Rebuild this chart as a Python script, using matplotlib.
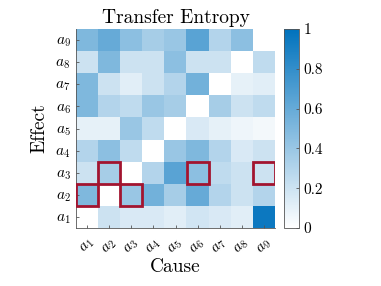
import numpy as np
import matplotlib
matplotlib.use("Agg")
import matplotlib.pyplot as plt
from matplotlib.colors import LinearSegmentedColormap
from matplotlib.patches import Rectangle

plt.rcParams['font.family'] = 'cmr10'
plt.rcParams['mathtext.fontset'] = 'cm'
plt.rcParams['axes.formatter.use_mathtext'] = True

labels = [r'$a_{%d}$' % i for i in range(1, 10)]
# rows: effect a1..a9 ; columns: cause a1..a9
te = np.array([
    [0.00, 0.20, 0.15, 0.15, 0.12, 0.18, 0.15, 0.12, 0.95],  # a1
    [0.50, 0.00, 0.40, 0.55, 0.35, 0.60, 0.30, 0.20, 0.30],  # a2
    [0.20, 0.35, 0.00, 0.30, 0.65, 0.45, 0.25, 0.20, 0.20],  # a3
    [0.30, 0.45, 0.25, 0.00, 0.40, 0.50, 0.30, 0.15, 0.20],  # a4
    [0.10, 0.10, 0.40, 0.25, 0.00, 0.15, 0.10, 0.07, 0.05],  # a5
    [0.50, 0.30, 0.25, 0.40, 0.35, 0.00, 0.35, 0.20, 0.25],  # a6
    [0.50, 0.20, 0.12, 0.20, 0.30, 0.55, 0.00, 0.10, 0.12],  # a7
    [0.20, 0.50, 0.20, 0.20, 0.45, 0.20, 0.20, 0.00, 0.25],  # a8
    [0.50, 0.60, 0.45, 0.35, 0.40, 0.65, 0.30, 0.45, 0.00],  # a9
])
# highlighted (effect, cause) pairs, 1-based
highlights = [(3, 2), (3, 6), (3, 9), (2, 1), (2, 3)]

cmap = LinearSegmentedColormap.from_list('wb', ['#ffffff', '#0072BD'])

fig = plt.figure(figsize=(3.81, 2.86), dpi=100)
ax = fig.add_axes([76/381, 1-228/286, 199/381, 199/286])
cax = fig.add_axes([284/381, 1-228/286, 15/381, 199/286])

im = ax.imshow(te, cmap=cmap, vmin=0, vmax=1, origin='lower',
               extent=[0.5, 9.5, 0.5, 9.5], aspect='auto', interpolation='nearest')
for (r, c) in highlights:
    ax.add_patch(Rectangle((c - 0.5, r - 0.5), 1, 1, fill=False,
                           edgecolor='#A2142F', linewidth=2.0, zorder=5))

ax.set_xlim(0.5, 9.5)
ax.set_ylim(0.5, 9.5)
ax.set_xticks(range(1, 10))
ax.set_yticks(range(1, 10))
ax.set_xticklabels(labels, rotation=45, fontsize=11)
ax.set_yticklabels(labels, fontsize=11)
ax.tick_params(direction='in', length=2, width=0.6, color='#555555', pad=4)
ax.tick_params(axis='x', pad=6)
for s in ['top', 'right']:
    ax.spines[s].set_visible(False)
for s in ['left', 'bottom']:
    ax.spines[s].set_color('#555555')
    ax.spines[s].set_linewidth(0.6)
ax.set_title('Transfer Entropy', fontsize=14, pad=4)
ax.set_xlabel('Cause', fontsize=14, labelpad=1)
ax.set_ylabel('Effect', fontsize=14, labelpad=5)

cb = fig.colorbar(im, cax=cax)
cb.set_ticks([0, 0.2, 0.4, 0.6, 0.8, 1])
cb.set_ticklabels(['0', '0.2', '0.4', '0.6', '0.8', '1'])
cb.ax.tick_params(direction='in', length=2, width=0.6, labelsize=11, color='#555555')
cb.outline.set_linewidth(0.6)
cb.outline.set_edgecolor('#555555')

fig.savefig('out.png', dpi=100)
